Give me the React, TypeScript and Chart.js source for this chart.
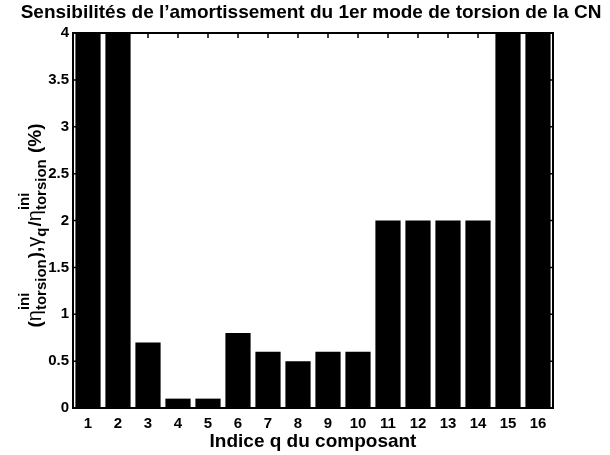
import React, { useEffect, useRef } from "react";
import { Chart, registerables } from "chart.js";

Chart.register(...registerables);

const categories: string[] = ["1","2","3","4","5","6","7","8","9","10","11","12","13","14","15","16"];
const values: number[] = [4, 4, 0.7, 0.1, 0.1, 0.8, 0.6, 0.5, 0.6, 0.6, 2, 2, 2, 2, 4, 4];
const yTickValues: number[] = [0, 0.5, 1, 1.5, 2, 2.5, 3, 3.5, 4];
const titleText = "Sensibilités de l\u2019amortissement du 1er mode de torsion de la CN";
const xTitleText = "Indice q du composant";

const FONT = "'Liberation Sans', Arial, Helvetica, sans-serif";

type Piece = { t: string; kind: "main" | "greek" | "sub" | "stack"; sup?: string; sub?: string };

const yLabelPieces: Piece[] = [
  { t: "(", kind: "main" },
  { t: "\u03B7", kind: "greek" },
  { t: "", kind: "stack", sup: "ini", sub: "torsion" },
  { t: "),", kind: "main" },
  { t: "\u03B3", kind: "greek" },
  { t: "q", kind: "sub" },
  { t: "/", kind: "main" },
  { t: "\u03B7", kind: "greek" },
  { t: "", kind: "stack", sup: "ini", sub: "torsion" },
  { t: " (%)", kind: "main" },
];

const decorPlugin = {
  id: "decor",
  beforeDatasetsDraw(chart: any) {
    const { ctx, chartArea: a, scales } = chart;
    const tl = 5;
    ctx.save();
    ctx.strokeStyle = "#000";
    ctx.lineWidth = 1.5;
    ctx.beginPath();
    yTickValues.forEach((v) => {
      const y = scales.y.getPixelForValue(v);
      ctx.moveTo(a.left, y);
      ctx.lineTo(a.left + tl, y);
      ctx.moveTo(a.right, y);
      ctx.lineTo(a.right - tl, y);
    });
    categories.forEach((_, i) => {
      const x = scales.x.getPixelForValue(i);
      ctx.moveTo(x, a.top);
      ctx.lineTo(x, a.top + tl);
      ctx.moveTo(x, a.bottom);
      ctx.lineTo(x, a.bottom - tl);
    });
    ctx.stroke();
    ctx.restore();
  },
  afterDatasetsDraw(chart: any) {
    const { ctx, chartArea: a } = chart;
    ctx.save();
    ctx.strokeStyle = "#000";
    ctx.lineWidth = 2;
    ctx.strokeRect(a.left, a.top, a.right - a.left, a.bottom - a.top);
    ctx.restore();
  },
  afterDraw(chart: any) {
    const { ctx, chartArea: a } = chart;
    const cx = (a.left + a.right) / 2;
    const cy = (a.top + a.bottom) / 2;
    ctx.save();
    ctx.fillStyle = "#000";
    ctx.textAlign = "center";
    ctx.textBaseline = "alphabetic";
    ctx.font = `bold 19px ${FONT}`;
    ctx.fillText(titleText, cx - 2, 18);
    ctx.font = `bold 19px ${FONT}`;
    ctx.fillText(xTitleText, cx, 447);

    // Y label with sub/superscripts
    const mainF = `bold 19px ${FONT}`;
    const greekF = `20px ${FONT}`;
    const smallF = `bold 15px ${FONT}`;
    const widthOf = (p: Piece) => {
      if (p.kind === "stack") {
        ctx.font = smallF;
        return Math.max(ctx.measureText(p.sup || "").width, ctx.measureText(p.sub || "").width) + 1;
      }
      ctx.font = p.kind === "main" ? mainF : p.kind === "greek" ? greekF : smallF;
      return ctx.measureText(p.t).width + (p.kind === "sub" ? 1 : 0);
    };
    const widths = yLabelPieces.map(widthOf);
    const total = widths.reduce((s, w) => s + w, 0);
    const baseX = 41;
    ctx.translate(baseX, cy + 5);
    ctx.rotate(-Math.PI / 2);
    ctx.textAlign = "left";
    let x = -total / 2;
    yLabelPieces.forEach((p, i) => {
      if (p.kind === "stack") {
        ctx.font = smallF;
        ctx.fillText(p.sup || "", x, -12);
        ctx.fillText(p.sub || "", x, 5);
      } else if (p.kind === "sub") {
        ctx.font = smallF;
        ctx.fillText(p.t, x, 5);
      } else {
        ctx.font = p.kind === "main" ? mainF : greekF;
        ctx.fillText(p.t, x, 0);
      }
      x += widths[i];
    });
    ctx.restore();
  },
};

export default function App() {
  const ref = useRef<HTMLCanvasElement | null>(null);
  useEffect(() => {
    document.body.style.margin = "0";
    if (!ref.current) return;
    const chart = new Chart(ref.current, {
      type: "bar",
      data: {
        labels: categories,
        datasets: [
          {
            data: values,
            backgroundColor: "#000",
            borderColor: "#000",
            borderWidth: 0,
            barPercentage: 0.84,
            categoryPercentage: 1,
          },
        ],
      },
      options: {
        animation: false,
        responsive: true,
        maintainAspectRatio: false,
        layout: { padding: { top: 33, right: 57, left: 0, bottom: 0 } },
        plugins: { legend: { display: false }, tooltip: { enabled: false }, title: { display: false } },
        scales: {
          x: {
            grid: { display: false, drawTicks: false },
            border: { display: false },
            ticks: { color: "#000", font: { family: FONT, size: 15, weight: "bold" }, padding: 7, maxRotation: 0, autoSkip: false },
            afterFit: (s: any) => { s.height = 47; },
          },
          y: {
            min: 0,
            max: 4,
            grid: { display: false, drawTicks: false },
            border: { display: false },
            ticks: {
              color: "#000",
              stepSize: 0.5,
              padding: 4,
              font: { family: FONT, size: 15, weight: "bold" },
              callback: (v: any) => String(v),
            },
            afterFit: (s: any) => { s.width = 73; },
          },
        },
      },
      plugins: [decorPlugin],
    });
    return () => chart.destroy();
  }, []);
  return (
    <div style={{ width: 610, height: 455, position: "relative" }}>
      <canvas ref={ref} />
    </div>
  );
}
